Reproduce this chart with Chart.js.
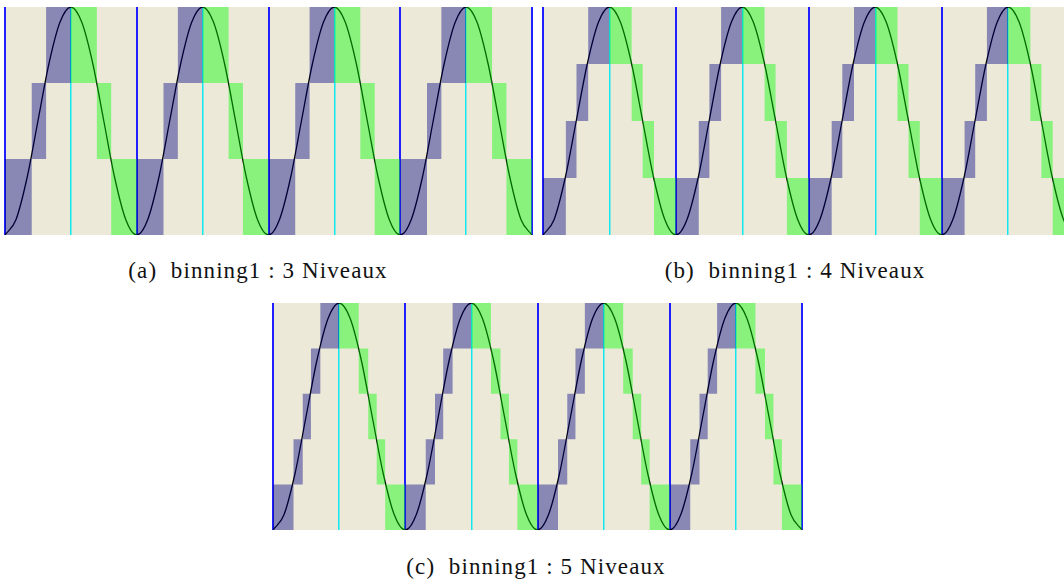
<!DOCTYPE html>
<html lang="fr">
<head>
<meta charset="utf-8">
<title>binning1</title>
<script src="https://cdn.jsdelivr.net/npm/chart.js@4.4.0/dist/chart.umd.min.js"></script>
<style>
    html, body {
        margin: 0;
        padding: 0;
        width: 1064px;
        height: 584px;
        overflow: hidden;
        background: #ffffff;
    }
    .panel {
        position: absolute;
    }
    .caption {
        position: absolute;
        font-family: 'Liberation Serif', 'DejaVu Serif', serif;
        font-size: 23px;
        letter-spacing: 1.1px;
        color: #111111;
        white-space: nowrap;
        transform: translateX(-50%);
    }
</style>
</head>
<body>
<div class="panel" style="left:3px; top:7px; width:531px; height:228px;"><canvas id="chartA"></canvas></div>
<div class="panel" style="left:541px; top:7px; width:525px; height:228px;"><canvas id="chartB"></canvas></div>
<div class="panel" style="left:271px; top:303px; width:533px; height:227px;"><canvas id="chartC"></canvas></div>

<div class="caption" style="left:258px; top:258px;">(a)&nbsp; binning1 : 3 Niveaux</div>
<div class="caption" style="left:795px; top:258px;">(b)&nbsp; binning1 : 4 Niveaux</div>
<div class="caption" style="left:536px; top:554px;">(c)&nbsp; binning1 : 5 Niveaux</div>

<script>
// periods of the signal (x unit = one period)
const periodStarts = [0, 1, 2, 3];

// one period of the signal
const curvePhase = [0, 0.083, 0.167, 0.25, 0.333, 0.417, 0.5, 0.583, 0.667, 0.75, 0.833, 0.917];
const curveLevel = [0, 0.067, 0.25, 0.5, 0.75, 0.933, 1, 0.933, 0.75, 0.5, 0.25, 0.067];

// (a) 3 levels
const levels3 = [0, 0.333, 0.667, 1];
const riseEdges3 = [0, 0.203, 0.312, 0.5];
const fallEdges3 = [0.5, 0.697, 0.806, 1];

// (b) 4 levels
const levels4 = [0, 0.25, 0.5, 0.75, 1];
const riseEdges4 = [0, 0.172, 0.252, 0.34, 0.5];
const fallEdges4 = [0.5, 0.667, 0.75, 0.835, 1];

// (c) 5 levels
const levels5 = [0, 0.2, 0.4, 0.6, 0.8, 1];
const riseEdges5 = [0, 0.155, 0.225, 0.287, 0.358, 0.5];
const fallEdges5 = [0.5, 0.648, 0.72, 0.784, 0.848, 1];

const BEIGE = '#ECE9D8';
const RISE_COLOR = 'rgba(0, 0, 128, 0.42)';
const FALL_COLOR = 'rgba(0, 255, 0, 0.42)';

// paints the plot area before anything else
const plotBackground = {
    id: 'plotBackground',
    beforeDraw(chart) {
        const { ctx, chartArea } = chart;
        ctx.save();
        ctx.fillStyle = BEIGE;
        ctx.fillRect(chartArea.left, chartArea.top, chartArea.width, chartArea.height);
        ctx.restore();
    }
};

class BinningPanel {
    constructor(canvasId, levels, riseEdges, fallEdges, xMax) {
        this.levels = levels;
        this.riseEdges = riseEdges;
        this.fallEdges = fallEdges;
        this.xMax = xMax;
        this.render(canvasId);
    }

    stepLine(points, fill, color) {
        return {
            data: points,
            stepped: true,
            borderWidth: 0,
            borderColor: 'rgba(0,0,0,0)',
            backgroundColor: color || 'rgba(0,0,0,0)',
            pointRadius: 0,
            fill: fill
        };
    }

    // one filled staircase per half period, between an upper and a lower step line
    binDatasets(edges, rising, color) {
        const n = this.levels.length - 1;
        const datasets = [];
        periodStarts.forEach(p => {
            const upper = [];
            const lower = [];
            edges.forEach((e, i) => {
                const k = Math.min(i, n - 1);
                const bin = rising ? k : n - 1 - k;
                upper.push({ x: p + e, y: this.levels[bin + 1] });
                lower.push({ x: p + e, y: this.levels[bin] });
            });
            datasets.push(this.stepLine(upper, false));
            datasets.push(this.stepLine(lower, '-1', color));
        });
        return datasets;
    }

    curveDataset() {
        const points = [];
        periodStarts.forEach(p => {
            curvePhase.forEach((ph, i) => points.push({ x: p + ph, y: curveLevel[i] }));
        });
        points.push({ x: periodStarts.length, y: curveLevel[0] });
        return {
            data: points,
            borderColor: '#000000',
            borderWidth: 1.3,
            pointRadius: 0,
            fill: false,
            cubicInterpolationMode: 'monotone'
        };
    }

    render(canvasId) {
        const isWhole = v => Math.abs(v - Math.round(v)) < 1e-6;
        const isHalf = v => !isWhole(v) && Math.abs(v * 2 - Math.round(v * 2)) < 1e-6;

        const ctx = document.getElementById(canvasId).getContext('2d');
        new Chart(ctx, {
            type: 'line',
            data: {
                // first datasets are painted last, so the curve goes at the end (underneath)
                datasets: [
                    ...this.binDatasets(this.riseEdges, true, RISE_COLOR),
                    ...this.binDatasets(this.fallEdges, false, FALL_COLOR),
                    this.curveDataset()
                ]
            },
            options: {
                responsive: true,
                maintainAspectRatio: false,
                animation: false,
                layout: { padding: { left: 2, right: 2, top: 0, bottom: 0 } },
                plugins: {
                    legend: { display: false },
                    tooltip: { enabled: false }
                },
                scales: {
                    x: {
                        type: 'linear',
                        min: 0,
                        max: this.xMax,
                        border: { display: false },
                        ticks: { display: false, stepSize: 0.5, autoSkip: false },
                        grid: {
                            drawTicks: false,
                            color: c => {
                                const v = c.tick ? c.tick.value : NaN;
                                if (isWhole(v)) return '#2020ff';
                                if (isHalf(v)) return '#10e8f0';
                                return 'rgba(0,0,0,0)';
                            },
                            lineWidth: c => (c.tick && isWhole(c.tick.value)) ? 2 : 1.5
                        }
                    },
                    y: {
                        display: false,
                        min: 0,
                        max: 1
                    }
                }
            },
            plugins: [plotBackground]
        });
    }
}

document.addEventListener('DOMContentLoaded', () => {
    new BinningPanel('chartA', levels3, riseEdges3, fallEdges3, 4);
    new BinningPanel('chartB', levels4, riseEdges4, fallEdges4, 3.92);
    new BinningPanel('chartC', levels5, riseEdges5, fallEdges5, 4);
});
</script>
</body>
</html>
